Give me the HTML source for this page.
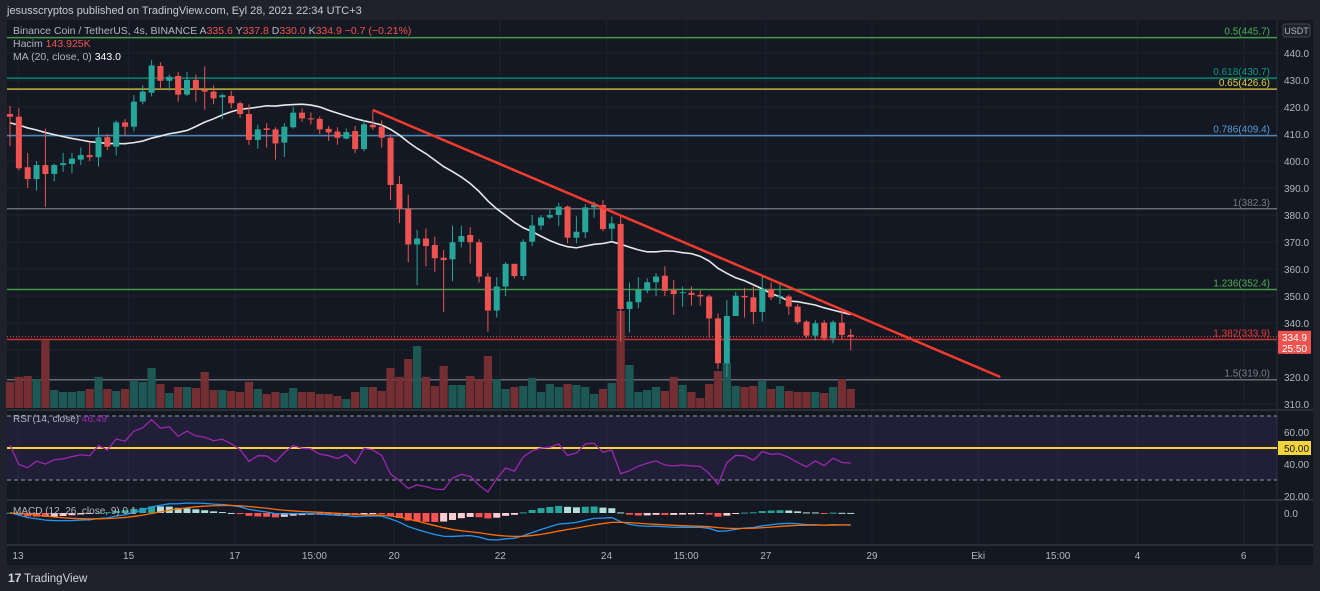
<!DOCTYPE html>
<html><head><meta charset="utf-8"><style>
html,body{margin:0;padding:0;background:#1e222d;}
svg{display:block;font-family:"Liberation Sans",sans-serif;}
</style></head><body>
<svg id="c" width="1320" height="591" viewBox="0 0 1320 591" xmlns="http://www.w3.org/2000/svg">
<rect x="0" y="0" width="1320" height="591" fill="#1f222d"/>
<text x="7" y="14" font-size="11" fill="#c8cad0">jesusscryptos published on TradingView.com, Eyl 28, 2021 22:34 UTC+3</text>
<rect x="7" y="20" width="1306" height="545" fill="#141823"/>
<g id="grid"></g>
<g id="fib"></g>
<g id="vol"></g>
<g id="ma"></g>
<g id="candles"></g>
<g id="trend"></g>
<g id="rsi"></g>
<g id="macd"></g>
<g id="axes"></g>
<text x="13" y="34" font-size="10.5" fill="#b2b5be">Binance Coin / TetherUS, 4s, BINANCE  A<tspan fill="#ef5350">335.6</tspan>  Y<tspan fill="#ef5350">337.8</tspan>  D<tspan fill="#ef5350">330.0</tspan>  K<tspan fill="#ef5350">334.9  −0.7 (−0.21%)</tspan></text>
<text x="13" y="47" font-size="10.5" fill="#b2b5be">Hacim  <tspan fill="#ef5350">143.925K</tspan></text>
<text x="13" y="60" font-size="10.5" fill="#b2b5be">MA (20, close, 0)  <tspan fill="#ffffff">343.0</tspan></text>
<text x="13" y="422" font-size="10" fill="#b2b5be">RSI (14, close) <tspan fill="#9c27b0">46.49</tspan></text>
<text x="13" y="514" font-size="10" fill="#b2b5be">MACD (12, 26, close, 9)  0.1</text>
<text x="8" y="582" font-size="12" font-weight="bold" fill="#d1d4dc">17</text>
<text x="24" y="582" font-size="11.5" fill="#d1d4dc">TradingView</text>
</svg>
<script>
const opens=[417.4,416.4,397.7,393.3,398.5,395.2,398.5,398.9,400.5,402.2,401.4,408.8,405.3,414.3,412.7,422,425.3,435.2,429.7,431.5,424.6,430,426.5,425.7,423.6,424.1,421.4,417.4,407.8,412.1,411.7,406.8,412.5,417.9,415.8,415.6,411.9,410.9,408.3,411.1,404.4,413.4,412.7,408.6,391.5,382.2,369.1,371.3,368.9,364.2,363.6,370.1,372.6,369.9,357.2,344.6,353.5,361.9,357.4,370.1,376.1,379.1,380,383.1,371.6,373.6,382.8,383.7,374.9,376.7,345.2,347.7,352,355.1,357.5,352.2,351.2,351.2,350.4,349.8,341.7,325.1,342.6,350,349.5,344.1,352.5,349.5,349.8,346.1,340.5,335.3,340.1,334.3,340.1,335.6];
const highs=[420.4,419.5,403,400,412,399,403,403,405,407,412.5,410,415,415.5,424.4,428,437.4,436.5,432,433,433,432,435,428,425,426,422,421,413.5,414,412.5,414,420,419.5,418,416.5,413,412.5,412,413,415,419,415,410,394.5,387.5,374.5,375,372,367,376,376,375.5,371,358.5,357,362.5,362,371,380,380,382,384.5,383.5,379.5,384,385,385.5,379.5,380,355,357,356.5,358.5,361,356,353.5,353.5,352,350.5,343.5,348.5,351.5,353,353.5,357.5,355,354.5,350.5,347,341,341,341,341,345,337.8];
const lows=[405.5,396.5,390,389,383,392.5,396,395.5,398.5,400,398,404,402,409.5,411,421,424,427,426,422,424,422,419,421,415.5,419.5,416,406,404.5,405,400.5,401.5,412,414.5,413.5,410,407.5,406,408,403,403.5,411.5,405,385.5,377,362.5,354,361,359,344,355.5,368,362,355,336.8,342,350,356.5,356,368.5,374.5,378.5,376,369.5,369.5,371.5,379,374,370.5,333,336.5,345.5,351,350,350,343,346,346.5,346.5,334.5,323,320,349,342,339.5,340.5,348.5,347,343,339.5,334.5,333.5,333.5,332.5,334,330];
const closes=[416.4,397.3,393.3,398.5,395.2,398.5,399.2,400.9,402.2,401.4,408.8,405.3,414.3,412.7,422,425.7,435.4,429.7,431.2,424.6,430,426.5,425.7,423.2,424.4,421.4,417.4,407.8,411.7,411.5,406.5,412.7,417.9,415.8,415.4,411.7,410.6,408.6,410.7,404.4,413.6,412.5,408.6,391.1,382.2,369.1,371.3,368.5,364,363.3,369.9,372.2,369.9,357.2,344.6,353.5,361.9,357.4,370.1,376.1,379.1,380,383.1,371.6,373.8,382.8,383.7,374.8,376.9,345.2,347.9,352.2,355.1,357.2,351.9,350.7,351.4,350.4,349.8,341.7,325.1,342.6,350.1,349.5,344.1,352.5,349.5,350,346.1,340.3,335.3,339.9,334.3,340.3,335.6,334.9];
const volumes=[26,31,32,29,68,18,16,16,17,19,31,19,17,19,27,26,40,24,15,21,21,20,36,18,18,17,16,26,19,14,16,15,20,16,16,14,14,12,9,16,21,21,17,40,31,49,62,31,22,42,23,23,32,29,52,29,19,21,22,30,16,24,21,24,23,21,14,19,25,97,43,16,18,21,17,31,23,16,10,24,37,45,22,21,22,27,19,22,17,16,16,16,15,21,29,19];
const priceTicks=[440,430,420,410,400,390,380,370,360,350,340,330,320,310];
const fibLevels=[0.5,0.618,0.65,0.786,1,1.236,1.382,1.5];
const fibPrices=[445.7,430.7,426.6,409.4,382.3,352.4,333.9,319.0];
const fibColors=["#4caf50","#089981","#e2cf3c","#5b9bd5","#787b86","#4caf50","#e53935","#787b86"];
const timeLabels=["13","15","17","15:00","20","22","24","15:00","27","29","Eki","15:00","4","6"];
const timeIndex=[0.9,13.4,25.4,34.4,43.4,55.4,67.4,76.4,85.4,97.4,109.4,118.4,127.4,139.4];
const rsiTicks=[60,40,20];
const trendStart=[41,418.9];
const trendEnd=[111.9,320];
const lastPrice=334.9;
const priorClose=414; // assumed level before the visible window (warm-up)

const NS="http://www.w3.org/2000/svg";
function mk(tag,attrs,parent){const e=document.createElementNS(NS,tag);for(const k in attrs)e.setAttribute(k,attrs[k]);parent.appendChild(e);return e;}
const X0=10,DX=8.85,PL=7,PR=1277;
const xOf=i=>X0+i*DX;
const yP=p=>53+(440-p)*2.7;
const yR=v=>448-(v-50)*1.6;
const VOLB=408;
const G=id=>document.getElementById(id);

const grid=G('grid');
priceTicks.forEach(p=>{const l=mk('line',{x1:PL,x2:PR,y1:yP(p),y2:yP(p),stroke:'#1e222d','stroke-width':1},grid);

});
timeIndex.forEach(t=>{const l=mk('line',{x1:xOf(t),x2:xOf(t),y1:20,y2:545,stroke:'#1e222d','stroke-width':1},grid);

});
[[410],[500],[545]].forEach(a=>{const l=mk('line',{x1:PL,x2:1313,y1:a[0],y2:a[0],stroke:'#2a2e39','stroke-width':2},grid);

});
const ax=mk('line',{x1:PR,x2:PR,y1:20,y2:565,stroke:'#2a2e39','stroke-width':1},grid);



const fib=G('fib');
fibPrices.forEach((p,i)=>{const y=yP(p);
const l=mk('line',{x1:PL,x2:PR,y1:y,y2:y,stroke:fibColors[i],'stroke-width':1.5,opacity:0.85},fib);


const t=mk('text',{x:1270,y:y-3,'font-size':10,fill:fibColors[i],'text-anchor':'end'},fib);
t.textContent=fibLevels[i]+'('+p.toFixed(1)+')';

});
const lp=mk('line',{x1:PL,x2:PR,y1:yP(lastPrice),y2:yP(lastPrice),stroke:'#ef5350','stroke-width':1,'stroke-dasharray':'1,2'},fib);



const vol=G('vol');
volumes.forEach((v,i)=>{const up=closes[i]>=opens[i];
const r=mk('rect',{x:xOf(i)-4.1,y:VOLB-v,width:8.2,height:v,fill:up?'#1e5c58':'#7a3035',opacity:0.95},vol);

});

// warm-up series for indicators
const warm=Array(30).fill(priorClose).concat(closes);
const W=30;
const ma=[];closes.forEach((c,i)=>{const j=i+W;const s=warm.slice(j-19,j+1);ma.push(s.reduce((a,b)=>a+b,0)/s.length);});
const maP=mk('polyline',{points:ma.map((v,i)=>xOf(i)+','+yP(v)).join(' '),fill:'none',stroke:'#e8e8e8','stroke-width':1.6},G('ma'));



const cg=G('candles');
opens.forEach((o,i)=>{const c=closes[i],up=c>=o,col=up?'#26a69a':'#ef5350',x=xOf(i);
const w=mk('line',{x1:x,x2:x,y1:yP(highs[i]),y2:yP(lows[i]),stroke:col,'stroke-width':1},cg);


const top=yP(Math.max(o,c)),h=Math.max(1,Math.abs(yP(o)-yP(c)));
const b=mk('rect',{x:x-3,y:top,width:6,height:h,fill:col},cg);

});

const tl=mk('line',{x1:xOf(trendStart[0]),y1:yP(trendStart[1]),x2:xOf(trendEnd[0]),y2:yP(trendEnd[1]),stroke:'#f23b2f','stroke-width':2.5},G('trend'));



const rg=G('rsi');
const rb=mk('rect',{x:PL,y:yR(70),width:PR-PL,height:yR(30)-yR(70),fill:'#7e57c2',opacity:0.13},rg);


[70,30].forEach(v=>{const l=mk('line',{x1:PL,x2:PR,y1:yR(v),y2:yR(v),stroke:'#9598a1','stroke-width':1,'stroke-dasharray':'4,3'},rg);

});
const ml=mk('line',{x1:PL,x2:PR,y1:yR(50),y2:yR(50),stroke:'#f5d33b','stroke-width':2},rg);


const rsi=[];let ag=2.5,al=2.5;
closes.forEach((c,i)=>{const prev=i?closes[i-1]:priorClose;const d=c-prev,g=Math.max(d,0),l=Math.max(-d,0);
ag=(ag*13+g)/14;al=(al*13+l)/14;rsi.push(al===0?100:100-100/(1+ag/al));});
const rp=mk('polyline',{points:rsi.map((v,i)=>xOf(i)+','+yR(v)).join(' '),fill:'none',stroke:'#9c27b0','stroke-width':1.3},rg);



const mg=G('macd');
function ema(arr,n){const k=2/(n+1),o=[];arr.forEach((v,i)=>o.push(i?v*k+o[i-1]*(1-k):v));return o;}
const we12=ema(warm,12),we26=ema(warm,26),wm=we12.map((v,i)=>v-we26[i]),ws=ema(wm,9);
const macd=wm.slice(W),sig=ws.slice(W),hist=macd.map((v,i)=>v-sig[i]);
const mx=Math.max(...macd.map(Math.abs),...sig.map(Math.abs),1e-6);
const yM=v=>513-v*(27/mx);
hist.forEach((h,i)=>{const prev=i?hist[i-1]:0;let col;
if(h>=0)col=h>=prev?'#26a69a':'#b2dfdb';else col=h<prev?'#ff5252':'#ffcdd2';
const y1=yM(Math.max(h,0)),y2=yM(Math.min(h,0));
const r=mk('rect',{x:xOf(i)-3.5,y:y1,width:7,height:Math.max(1,y2-y1),fill:col},mg);

});
const mp=mk('polyline',{points:macd.map((v,i)=>xOf(i)+','+yM(v)).join(' '),fill:'none',stroke:'#2196f3','stroke-width':1.3},mg);


const sp=mk('polyline',{points:sig.map((v,i)=>xOf(i)+','+yM(v)).join(' '),fill:'none',stroke:'#ff6d00','stroke-width':1.3},mg);



const ag2=G('axes');
priceTicks.forEach(p=>{const t=mk('text',{x:1284,y:yP(p)+4,'font-size':10,fill:'#b2b5be'},ag2);t.textContent=p.toFixed(1);

});
const ub=mk('rect',{x:1283,y:24,width:27,height:13,rx:2,fill:'#1e222d',stroke:'#434651'},ag2);


const ut=mk('text',{x:1296.5,y:34,'font-size':9,fill:'#b2b5be','text-anchor':'middle'},ag2);ut.textContent='USDT';


const pb=mk('rect',{x:1278,y:yP(lastPrice)-6,width:33,height:23,fill:'#ef5350'},ag2);


const pt=mk('text',{x:1294.5,y:yP(lastPrice)+4,'font-size':10,fill:'#fff','text-anchor':'middle'},ag2);pt.textContent=lastPrice.toFixed(1);


const ct=mk('text',{x:1294.5,y:yP(lastPrice)+15,'font-size':10,fill:'#fff','text-anchor':'middle'},ag2);ct.textContent='25:50';


rsiTicks.forEach(v=>{const t=mk('text',{x:1284,y:yR(v)+4,'font-size':10,fill:'#b2b5be'},ag2);t.textContent=v.toFixed(2);

});
const yb=mk('rect',{x:1278,y:yR(50)-7,width:33,height:14,fill:'#f5d33b'},ag2);


const yt=mk('text',{x:1284,y:yR(50)+4,'font-size':10,fill:'#131722'},ag2);yt.textContent='50.00';


const zt=mk('text',{x:1284,y:517,'font-size':10,fill:'#b2b5be'},ag2);zt.textContent='0.0';


timeLabels.forEach((s,i)=>{const t=mk('text',{x:xOf(timeIndex[i]),y:559,'font-size':10,fill:'#b2b5be','text-anchor':'middle'},ag2);t.textContent=s;

});
</script>
</body></html>
